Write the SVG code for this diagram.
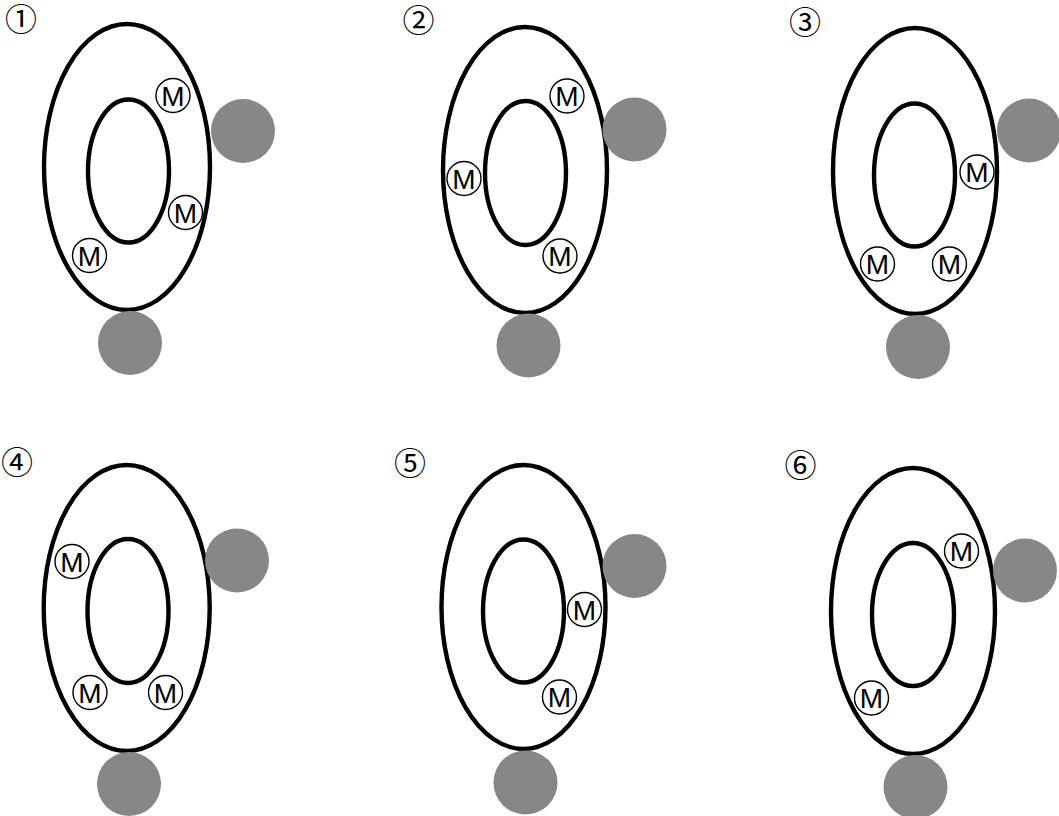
<svg xmlns="http://www.w3.org/2000/svg" width="1059" height="816" viewBox="0 0 1059 816">
<style>
.outer{fill:none;stroke:#000;stroke-width:4.4}
.inner{fill:none;stroke:#000;stroke-width:4.4}
.ball{fill:#878787}
.mc{fill:#fff;stroke:#000;stroke-width:1.4}
.mt{font-family:"Liberation Sans",Arial,sans-serif;font-size:28px;text-anchor:middle;fill:#000}
.num{font-family:"Noto Sans CJK JP",sans-serif;font-size:32px;text-anchor:middle;fill:#000}
</style>
<rect width="1059" height="816" fill="#fff"/>

<g id="panel1">
  <text class="num" x="21" y="31">①</text>
  <ellipse class="outer" cx="127" cy="167" rx="83" ry="143"/>
  <ellipse class="inner" cx="128.5" cy="171" rx="40.5" ry="71.5"/>
  <circle id="p1-ball-right" class="ball" cx="243" cy="131" r="32"/>
  <circle id="p1-ball-bottom" class="ball" cx="130" cy="343" r="32"/>
  <g id="p1-m1"><circle class="mc" cx="173" cy="95.5" r="17"/><text class="mt" x="173" y="105.5">M</text></g>
  <g id="p1-m2"><circle class="mc" cx="185.5" cy="212.5" r="17"/><text class="mt" x="185.5" y="222.5">M</text></g>
  <g id="p1-m3"><circle class="mc" cx="89.5" cy="255.5" r="17"/><text class="mt" x="89.5" y="265.5">M</text></g>
</g>

<g id="panel2">
  <text class="num" x="418.5" y="32">②</text>
  <ellipse class="outer" cx="525" cy="170" rx="82" ry="143"/>
  <ellipse class="inner" cx="525.5" cy="173" rx="40.5" ry="72"/>
  <circle id="p2-ball-right" class="ball" cx="634.5" cy="129.5" r="32"/>
  <circle id="p2-ball-bottom" class="ball" cx="528.5" cy="345.5" r="32"/>
  <g id="p2-m1"><circle class="mc" cx="567" cy="96" r="17"/><text class="mt" x="567" y="106">M</text></g>
  <g id="p2-m2"><circle class="mc" cx="464" cy="178.5" r="17"/><text class="mt" x="464" y="188.5">M</text></g>
  <g id="p2-m3"><circle class="mc" cx="560" cy="256" r="17"/><text class="mt" x="560" y="266">M</text></g>
</g>

<g id="panel3">
  <text class="num" x="805" y="34">③</text>
  <ellipse class="outer" cx="915" cy="171" rx="82" ry="143"/>
  <ellipse class="inner" cx="914.5" cy="175" rx="40.5" ry="71.5"/>
  <circle id="p3-ball-right" class="ball" cx="1029" cy="130.5" r="32"/>
  <circle id="p3-ball-bottom" class="ball" cx="918" cy="347" r="32"/>
  <g id="p3-m1"><circle class="mc" cx="977" cy="172" r="17"/><text class="mt" x="977" y="182">M</text></g>
  <g id="p3-m2"><circle class="mc" cx="877.5" cy="264" r="17"/><text class="mt" x="877.5" y="274">M</text></g>
  <g id="p3-m3"><circle class="mc" cx="949.5" cy="264" r="17"/><text class="mt" x="949.5" y="274">M</text></g>
</g>

<g id="panel4">
  <text class="num" x="17" y="474">④</text>
  <ellipse class="outer" cx="126.7" cy="608" rx="83" ry="143"/>
  <ellipse class="inner" cx="128" cy="611" rx="40.5" ry="72"/>
  <circle id="p4-ball-right" class="ball" cx="237" cy="560.5" r="32"/>
  <circle id="p4-ball-bottom" class="ball" cx="129" cy="784" r="32"/>
  <g id="p4-m1"><circle class="mc" cx="72" cy="561.5" r="17"/><text class="mt" x="72" y="571.5">M</text></g>
  <g id="p4-m2"><circle class="mc" cx="90" cy="692.5" r="17"/><text class="mt" x="90" y="702.5">M</text></g>
  <g id="p4-m3"><circle class="mc" cx="165.5" cy="692.5" r="17"/><text class="mt" x="165.5" y="702.5">M</text></g>
</g>

<g id="panel5">
  <text class="num" x="410" y="475">⑤</text>
  <ellipse class="outer" cx="523.5" cy="607" rx="82" ry="142"/>
  <ellipse class="inner" cx="523.5" cy="611" rx="40.5" ry="71.5"/>
  <circle id="p5-ball-right" class="ball" cx="634.5" cy="566" r="32"/>
  <circle id="p5-ball-bottom" class="ball" cx="525.5" cy="782.5" r="32"/>
  <g id="p5-m1"><circle class="mc" cx="584.5" cy="609.5" r="17"/><text class="mt" x="584.5" y="619.5">M</text></g>
  <g id="p5-m2"><circle class="mc" cx="559.5" cy="697" r="17"/><text class="mt" x="559.5" y="707">M</text></g>
</g>

<g id="panel6">
  <text class="num" x="800.5" y="477">⑥</text>
  <ellipse class="outer" cx="913" cy="611" rx="82" ry="143"/>
  <ellipse class="inner" cx="913" cy="614.5" rx="41" ry="71.5"/>
  <circle id="p6-ball-right" class="ball" cx="1025" cy="570.5" r="32"/>
  <circle id="p6-ball-bottom" class="ball" cx="915.5" cy="787" r="32"/>
  <g id="p6-m1"><circle class="mc" cx="961.5" cy="551" r="17"/><text class="mt" x="961.5" y="561">M</text></g>
  <g id="p6-m2"><circle class="mc" cx="871.5" cy="698" r="17"/><text class="mt" x="871.5" y="708">M</text></g>
</g>

<g id="connectors"/>
</svg>
